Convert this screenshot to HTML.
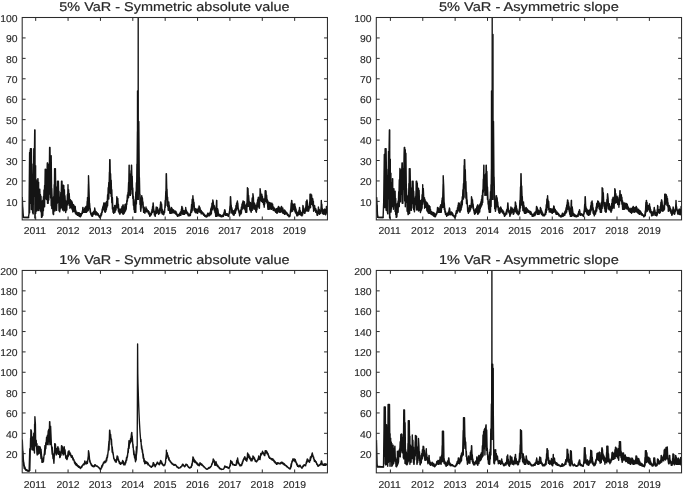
<!DOCTYPE html>
<html><head><meta charset="utf-8"><title>VaR charts</title>
<style>
html,body{margin:0;padding:0;background:#fff;}
body{width:685px;height:488px;overflow:hidden;}
svg{display:block;}
text{text-rendering:geometricPrecision;}
.tk{font-family:"Liberation Sans",sans-serif;font-size:10.00px;fill:#262626;stroke:#262626;stroke-width:0.12px;}
.tt{font-family:"Liberation Sans",sans-serif;font-size:12.80px;fill:#262626;stroke:#262626;stroke-width:0.2px;}
</style></head><body>
<svg width="685" height="488" viewBox="0 0 685 488">
<rect width="685" height="488" fill="#fff"/>
<clipPath id="ctl"><rect x="22.20" y="17.50" width="305.25" height="202.40"/></clipPath>
<g clip-path="url(#ctl)">
<polyline points="21.8,197.3 22.4,212.8 22.4,207.3 22.9,217.4 23.0,215.5 23.1,217.4 23.6,217.5 24.2,217.5 24.8,217.5 25.4,217.5 26.0,217.5 26.6,217.5 27.2,217.5 27.8,217.5 28.4,217.5 29.0,213.9 29.6,152.5 29.6,212.7 30.2,150.2 30.2,203.3 30.4,148.8 30.8,148.8 31.4,209.6 31.4,148.8 32.0,207.4 32.0,163.9 32.6,212.0 33.1,213.9 33.2,174.3 33.2,213.9 33.8,148.6 33.8,196.0 34.4,158.0 34.7,129.9 34.9,218.1 35.0,129.9 35.1,218.1 35.6,165.6 35.7,213.5 36.2,179.6 36.3,209.8 36.8,210.9 37.4,181.0 37.4,206.5 37.8,178.8 38.0,178.8 38.1,210.3 38.6,182.2 38.7,210.6 39.2,190.8 39.8,208.6 39.8,189.3 40.4,210.9 40.4,194.4 41.0,211.9 41.0,196.1 41.5,217.4 41.6,201.0 41.7,217.4 42.2,216.4 42.8,200.2 42.8,215.6 43.4,196.8 43.4,210.7 44.0,189.9 44.0,207.1 44.6,185.5 44.6,206.8 45.2,169.2 45.2,193.2 45.8,169.5 45.8,198.6 46.4,172.2 46.4,199.5 47.0,172.2 47.3,163.0 47.5,203.3 47.6,163.0 47.7,203.3 48.2,203.3 48.8,164.1 48.8,200.0 49.4,165.7 49.6,147.4 50.0,194.1 50.0,147.4 50.6,197.9 50.6,161.0 51.2,205.7 51.2,155.8 51.8,208.5 51.8,188.4 52.4,206.8 52.4,197.7 53.0,213.2 53.4,214.6 53.6,196.7 53.6,214.6 54.2,184.6 54.2,208.9 54.6,168.6 54.8,168.6 54.9,211.0 55.4,168.6 56.0,208.8 56.0,186.8 56.4,210.4 56.6,210.4 57.2,193.5 57.2,203.4 57.5,181.2 57.8,181.2 58.4,202.4 58.4,181.2 59.0,210.7 59.0,191.3 59.6,211.7 59.6,198.4 59.7,211.8 60.2,208.3 60.8,192.4 60.8,208.0 61.4,185.7 61.5,181.2 62.0,208.0 62.0,181.2 62.6,210.0 62.6,187.1 63.2,209.1 63.2,185.1 63.8,209.3 63.8,185.5 63.9,211.1 64.4,189.7 65.0,210.2 65.0,195.8 65.6,208.0 65.6,200.4 65.7,212.5 66.2,209.3 66.8,201.1 66.8,210.0 67.4,194.5 67.4,204.9 68.0,186.6 68.0,184.7 68.1,203.6 68.6,189.6 69.2,205.4 69.2,193.4 69.8,203.8 69.8,199.6 69.9,208.3 70.4,199.6 70.5,207.2 71.0,200.5 71.6,208.1 71.6,201.0 72.2,209.7 72.2,202.0 72.8,212.0 72.8,205.9 73.4,210.6 73.4,204.4 74.0,211.3 74.0,205.3 74.6,211.1 74.6,207.0 75.2,212.9 75.2,206.4 75.8,213.9 75.8,210.3 76.4,214.5 76.4,212.1 77.0,213.9 77.0,212.1 77.6,215.3 77.6,212.8 78.2,214.7 78.2,212.7 78.8,215.8 78.8,212.6 79.4,216.3 79.4,212.9 80.0,216.2 80.0,213.5 80.3,216.9 80.6,213.7 80.7,216.4 81.2,215.7 81.8,213.2 81.8,213.8 82.4,210.8 82.4,213.5 82.8,207.5 83.0,207.5 83.1,212.3 83.6,209.2 83.7,211.5 84.2,212.3 84.8,207.9 84.8,212.3 85.4,207.2 85.4,212.3 85.9,206.5 86.0,212.3 86.6,206.2 86.6,212.3 87.2,201.3 87.2,209.5 87.5,197.5 87.8,211.0 88.4,184.0 88.4,210.3 88.5,175.8 89.0,189.8 89.6,208.5 89.6,203.3 90.2,212.3 90.2,208.5 90.8,214.3 90.8,212.3 91.4,215.3 91.4,213.7 92.0,215.5 92.0,216.4 92.6,212.6 92.6,216.2 93.2,212.0 93.2,214.7 93.8,211.1 93.8,214.1 94.4,210.5 94.4,214.1 94.7,208.0 95.0,209.7 95.6,214.8 95.6,211.2 95.7,214.8 96.2,211.8 96.3,214.8 96.8,212.7 97.4,214.8 97.4,213.0 98.0,215.4 98.0,213.4 98.6,215.7 98.6,214.8 99.2,216.9 99.2,215.4 99.8,217.5 99.8,215.9 100.2,217.9 100.4,217.9 101.0,213.5 101.0,216.2 101.6,212.4 101.6,214.9 102.2,209.0 102.2,212.3 102.8,206.8 102.8,210.4 103.4,205.0 103.4,209.3 103.8,202.9 104.0,202.9 104.6,211.6 104.6,203.3 105.2,211.6 105.3,212.3 105.8,202.8 105.8,211.5 106.4,201.8 106.4,209.8 107.0,202.1 107.0,207.1 107.6,194.8 107.6,205.8 108.2,187.6 108.2,194.8 108.8,182.4 108.8,199.1 109.4,172.3 109.4,192.9 109.7,159.6 110.0,159.6 110.6,193.5 110.6,173.7 111.2,196.6 111.2,180.2 111.8,202.8 111.8,189.6 112.4,209.0 112.4,197.5 113.0,212.2 113.0,208.5 113.6,212.8 113.7,213.3 114.2,207.5 114.2,212.8 114.7,205.5 114.8,205.7 114.9,212.3 115.4,210.1 116.0,205.3 116.0,210.0 116.6,202.6 116.6,207.3 116.8,196.8 117.2,198.3 117.8,208.3 117.8,198.4 118.4,211.2 118.4,204.1 119.0,212.8 119.0,208.4 119.6,213.7 119.6,209.5 119.9,214.3 120.2,213.3 120.8,209.0 120.8,212.3 121.4,208.1 121.4,212.6 122.0,206.5 122.6,207.1 122.6,213.5 122.9,205.0 123.0,214.3 123.2,205.0 123.3,214.3 123.8,207.0 123.9,213.6 124.4,212.7 125.0,204.5 125.0,211.8 125.6,205.7 125.6,210.7 126.2,203.4 126.2,209.2 126.8,200.5 126.8,204.5 127.4,194.9 127.4,201.2 128.0,192.4 128.0,198.3 128.6,182.5 128.6,197.6 129.1,165.2 129.2,165.2 129.3,195.1 129.8,174.0 130.2,195.4 130.4,195.4 131.0,170.6 131.0,189.3 131.4,165.2 131.6,165.2 132.2,194.0 132.2,176.1 132.8,198.5 132.8,187.9 133.4,205.3 133.4,196.2 134.0,209.6 134.0,202.2 134.5,212.3 134.6,212.3 135.2,199.6 135.2,212.3 135.8,191.9 135.8,212.3 136.4,182.8 136.4,204.1 137.0,164.1 137.0,192.0 137.6,131.6 137.6,191.6 137.7,121.5 138.2,121.5 138.8,183.2 138.8,121.5 139.4,194.0 139.4,177.6 140.0,204.4 140.0,194.3 140.6,209.9 140.6,198.0 140.7,211.3 141.2,207.7 141.7,195.8 141.8,195.8 142.4,204.2 142.4,197.7 143.0,207.9 143.0,201.9 143.6,212.4 143.6,206.4 144.2,211.2 144.2,207.4 144.8,213.3 144.8,213.3 145.4,209.1 145.4,211.7 146.0,207.0 146.0,207.0 146.1,211.7 146.6,208.5 146.7,211.8 147.2,209.8 147.8,211.9 147.8,210.9 148.4,213.2 148.4,210.8 149.0,214.5 149.0,211.5 149.6,215.3 149.6,213.3 149.8,216.4 150.2,215.8 150.8,213.4 150.8,215.5 151.4,211.9 151.4,214.4 152.0,209.5 152.0,212.3 152.6,206.5 152.6,212.5 153.1,202.9 153.2,202.9 153.8,211.1 153.8,209.3 154.4,215.0 154.4,211.1 155.0,214.7 155.2,216.4 155.6,211.0 155.6,213.4 156.2,207.0 156.2,207.0 156.3,213.6 156.8,208.3 156.9,212.6 157.4,207.5 158.0,213.2 158.0,209.0 158.5,214.3 158.6,214.3 159.2,210.8 159.2,213.6 159.8,208.3 159.8,213.1 160.4,204.2 160.4,210.4 160.6,201.9 161.0,202.2 161.6,212.7 161.6,204.0 162.2,214.0 162.2,209.2 162.8,213.8 162.8,211.6 163.4,214.7 163.7,214.8 164.0,211.0 164.0,214.2 164.6,209.2 164.6,212.5 165.2,200.4 165.2,207.4 165.8,191.4 165.8,205.5 166.2,173.7 166.4,173.7 167.0,199.1 167.0,189.1 167.6,206.4 167.6,197.1 168.2,210.3 168.8,201.9 168.8,209.4 168.8,201.9 169.4,210.6 169.4,205.7 169.8,213.3 170.0,213.3 170.6,209.0 170.6,213.3 171.2,207.7 171.2,213.3 171.3,207.5 171.8,208.2 171.9,213.0 172.4,209.0 172.5,212.8 173.0,209.6 173.6,212.5 173.6,210.0 174.2,213.0 174.2,210.9 174.8,213.1 174.8,210.9 175.4,213.5 175.4,211.2 176.0,214.3 176.0,211.5 176.6,215.0 176.6,213.0 177.2,215.1 177.2,214.3 177.5,216.4 177.8,216.2 178.4,214.8 178.4,216.0 179.0,214.2 179.0,215.1 179.6,213.5 179.6,215.7 180.2,212.3 180.2,215.2 180.8,211.5 180.8,215.4 181.4,209.2 181.4,213.9 181.8,206.5 182.0,206.5 182.6,212.6 182.6,207.9 182.7,214.3 183.2,210.2 183.3,214.3 183.8,210.7 183.9,214.3 184.4,214.3 185.0,210.5 185.0,213.7 185.6,208.9 185.7,207.5 186.2,213.0 186.2,210.0 186.8,213.3 186.8,211.2 187.4,214.1 187.4,212.5 188.0,215.1 188.0,212.9 188.3,215.9 188.6,214.1 188.7,215.9 189.2,214.3 189.3,215.9 189.8,215.9 190.4,213.2 190.4,215.4 191.0,209.6 191.0,212.8 191.6,204.4 191.6,212.4 192.2,199.2 192.2,211.0 192.8,198.2 192.9,195.8 193.4,206.1 193.4,199.3 194.0,210.3 194.0,202.3 194.6,211.1 194.6,207.9 195.2,212.5 195.2,209.5 195.8,212.7 195.8,208.6 196.4,212.0 196.4,209.1 197.0,213.0 197.0,209.4 197.5,213.3 197.6,213.3 198.2,208.3 198.2,211.8 198.8,207.8 198.8,211.9 199.0,206.0 199.4,206.5 200.0,212.4 200.0,207.7 200.6,212.5 200.6,210.1 201.2,213.9 201.2,210.4 201.8,213.3 201.8,212.0 202.4,213.9 202.4,212.0 203.0,214.1 203.0,212.7 203.6,215.2 203.6,213.2 204.2,215.4 204.2,214.3 204.8,216.4 204.8,214.8 205.4,216.6 205.4,215.5 206.0,216.7 206.2,216.9 206.6,215.6 206.6,216.8 207.2,214.5 207.2,216.6 207.7,213.2 207.8,213.2 207.9,215.9 208.4,213.4 208.5,215.7 209.0,215.6 209.6,213.0 209.6,215.7 210.2,212.0 210.2,214.9 210.8,208.6 210.8,214.6 211.4,206.9 211.4,213.6 212.0,203.1 212.0,209.8 212.6,202.4 212.6,209.8 212.8,199.9 213.2,201.8 213.8,208.1 213.8,205.1 214.4,210.7 214.4,205.7 215.0,212.6 215.0,208.0 215.6,214.8 215.7,216.4 216.2,208.2 216.6,200.4 216.7,216.4 216.8,200.4 216.9,216.4 217.4,215.1 217.5,208.4 218.0,210.1 218.6,215.8 218.6,213.6 219.2,216.0 219.2,214.1 219.8,215.7 219.8,214.8 220.4,216.5 220.4,214.8 221.0,216.2 221.0,215.1 221.5,216.9 221.6,216.9 222.2,215.4 222.2,216.3 222.8,215.0 222.8,216.5 223.4,214.2 223.4,216.3 224.0,212.5 224.0,214.9 224.6,209.9 224.6,214.7 224.8,209.6 225.2,210.9 225.6,215.4 225.8,213.9 225.9,215.4 226.4,213.7 226.5,215.4 227.0,213.7 227.6,215.7 227.6,213.9 228.2,216.0 228.7,216.4 228.8,214.2 228.8,216.4 229.4,211.4 229.4,213.0 230.0,205.9 230.0,213.0 230.4,196.8 230.6,196.8 231.2,207.8 231.2,205.0 231.8,213.1 231.8,207.7 232.4,212.6 232.4,209.9 233.0,214.6 233.0,210.5 233.6,214.7 233.8,215.4 234.2,210.6 234.2,215.0 234.8,209.6 234.8,213.3 235.4,208.4 235.4,213.2 236.0,205.4 236.0,210.9 236.6,203.0 236.6,209.6 237.2,202.6 237.4,200.9 237.8,208.3 237.8,203.0 238.4,210.7 238.4,208.7 239.0,212.8 239.0,210.2 239.6,215.7 239.6,215.9 240.2,212.3 240.2,213.8 240.8,209.8 240.8,214.1 241.4,207.0 241.4,213.1 242.0,204.0 242.0,209.7 242.6,202.5 242.6,208.9 243.0,200.9 243.2,200.9 243.8,208.1 243.8,202.7 244.4,208.9 244.4,201.6 245.0,209.9 245.0,204.7 245.6,212.3 245.6,212.3 246.2,205.0 246.2,212.3 246.8,203.1 246.8,212.3 247.4,190.0 247.4,187.6 247.5,206.5 248.0,188.4 248.6,206.3 248.6,195.4 249.2,203.9 249.2,201.1 249.8,209.8 249.8,203.6 250.4,210.9 250.4,202.4 251.0,210.6 251.2,212.3 251.6,205.3 251.6,208.3 252.2,198.0 252.2,210.4 252.8,197.6 252.8,208.1 252.9,193.7 253.4,197.7 254.0,209.3 254.0,202.4 254.6,209.1 254.6,203.4 255.2,209.1 255.2,205.2 255.8,211.1 255.8,205.1 256.3,212.3 256.4,212.3 257.0,202.7 257.0,209.8 257.6,199.8 257.6,206.4 258.2,197.8 258.2,206.9 258.4,197.3 258.8,199.2 259.2,208.2 259.4,208.2 260.0,193.7 260.0,200.7 260.1,188.6 260.6,193.0 260.7,200.4 261.2,195.7 261.3,201.2 261.8,194.1 262.4,202.3 262.4,196.3 263.0,202.2 263.0,198.4 263.6,204.6 263.6,199.2 264.2,206.7 264.2,207.2 264.8,198.3 264.8,204.0 265.2,190.6 265.4,190.6 265.5,201.4 266.0,191.0 266.6,202.2 266.6,195.1 267.2,203.4 267.2,199.4 267.8,207.7 267.8,200.7 267.9,209.2 268.4,202.0 268.5,209.2 269.0,202.9 269.1,209.2 269.6,202.5 269.7,209.1 270.2,203.5 270.8,208.7 270.8,202.9 271.4,209.4 271.4,204.5 272.0,208.8 272.0,203.3 272.6,208.6 272.6,204.1 273.2,210.4 273.2,207.0 273.8,210.5 273.8,207.2 274.4,210.6 274.4,208.3 275.0,211.1 275.0,209.2 275.6,212.2 276.2,208.6 276.2,212.4 276.8,209.1 276.8,212.2 276.8,213.3 277.4,208.1 277.4,213.0 278.0,208.7 278.0,211.7 278.4,206.5 278.6,206.5 278.7,211.8 279.2,207.1 279.3,212.0 279.8,212.3 280.4,208.1 280.4,212.2 281.0,207.2 281.0,211.7 281.4,206.5 281.6,206.5 282.2,212.3 282.2,208.1 282.8,213.1 282.8,208.0 283.4,213.4 283.4,209.9 284.0,213.1 284.0,210.6 284.5,214.3 284.6,209.9 284.7,214.3 285.2,210.6 285.3,214.0 285.8,211.8 286.4,213.6 286.4,212.1 287.0,214.6 287.0,212.8 287.6,215.4 287.6,213.7 288.2,215.7 288.2,214.5 288.8,216.0 288.8,215.1 289.0,216.9 289.4,216.5 290.0,215.4 290.0,216.2 290.6,209.7 290.6,212.1 291.2,203.0 291.2,211.9 291.6,200.4 291.8,200.4 292.4,208.3 292.4,204.1 292.6,211.3 293.0,204.0 293.1,209.7 293.6,204.4 294.2,209.7 294.7,203.9 294.8,211.2 294.8,203.9 295.4,212.6 295.4,206.8 296.0,213.4 296.0,208.9 296.6,214.9 296.6,211.2 296.9,215.9 297.2,215.9 297.8,212.4 297.8,215.6 298.4,212.6 298.4,214.5 299.0,210.2 299.0,214.5 299.5,207.5 299.6,207.5 300.2,214.7 300.2,210.4 300.8,215.1 300.8,212.5 301.4,215.0 301.4,212.5 301.8,215.9 302.0,215.9 302.6,210.8 302.6,214.9 302.9,205.5 303.2,206.5 303.3,212.0 303.8,208.3 303.9,212.7 304.4,210.2 304.5,213.3 305.0,213.3 305.6,207.1 305.6,211.5 306.2,201.4 306.2,208.5 306.8,200.4 306.8,210.7 307.0,199.9 307.4,202.6 308.0,211.3 308.0,206.1 308.1,211.3 308.6,207.2 308.7,210.9 309.2,208.6 309.8,201.3 309.8,206.6 310.0,194.2 310.4,194.2 310.5,207.7 311.0,194.2 311.1,204.4 311.6,194.9 312.2,204.4 312.2,198.1 312.8,205.9 312.8,198.8 313.4,208.8 313.4,201.2 313.6,211.3 314.0,210.7 314.6,205.6 314.6,205.5 315.2,209.9 315.2,208.3 315.8,212.3 315.8,208.6 316.4,212.2 316.4,210.2 317.0,214.6 317.2,215.4 317.6,211.4 317.6,215.3 318.2,209.1 318.2,213.8 318.4,207.0 318.8,209.3 318.9,212.4 319.4,209.8 319.5,214.3 320.0,213.5 320.6,211.0 320.6,213.3 321.2,205.6 321.3,200.4 321.8,211.0 321.8,204.1 322.4,213.5 322.4,208.6 323.0,213.5 323.0,209.6 323.4,214.3 323.6,213.8 324.2,209.7 324.6,209.1 324.8,214.2 324.8,209.1 325.4,213.9 325.6,214.8 326.0,209.3 326.0,214.2 326.4,206.5 326.6,206.5 326.7,213.5" fill="none" stroke="#141414" stroke-width="1.40" stroke-linejoin="round"/>
<polyline points="22.3,197.0 22.6,205.0 23.0,213.0 23.5,217.3 29.3,217.5" fill="none" stroke="#141414" stroke-width="1.35" stroke-linejoin="round"/>
<polyline points="137.4,200.0 137.5,91.0 137.7,200.0" fill="none" stroke="#141414" stroke-width="1.35" stroke-linejoin="round"/>
<polyline points="138.1,200.0 138.2,10.0 138.3,200.0" fill="none" stroke="#141414" stroke-width="1.35" stroke-linejoin="round"/>
</g>
<rect x="22.20" y="17.50" width="305.25" height="202.40" fill="none" stroke="#2b2b2b" stroke-width="1.05"/>
<text transform="translate(34.90 234.00) scale(1.040 1)" text-anchor="middle" class="tk">2011</text>
<text transform="translate(67.97 234.00) scale(1.040 1)" text-anchor="middle" class="tk">2012</text>
<text transform="translate(100.34 234.00) scale(1.040 1)" text-anchor="middle" class="tk">2013</text>
<text transform="translate(132.71 234.00) scale(1.040 1)" text-anchor="middle" class="tk">2014</text>
<text transform="translate(165.08 234.00) scale(1.040 1)" text-anchor="middle" class="tk">2015</text>
<text transform="translate(197.45 234.00) scale(1.040 1)" text-anchor="middle" class="tk">2016</text>
<text transform="translate(229.82 234.00) scale(1.040 1)" text-anchor="middle" class="tk">2017</text>
<text transform="translate(262.19 234.00) scale(1.040 1)" text-anchor="middle" class="tk">2018</text>
<text transform="translate(294.56 234.00) scale(1.040 1)" text-anchor="middle" class="tk">2019</text>
<text transform="translate(17.50 205.57) scale(1.040 1)" text-anchor="end" class="tk">10</text>
<text transform="translate(17.50 185.14) scale(1.040 1)" text-anchor="end" class="tk">20</text>
<text transform="translate(17.50 164.71) scale(1.040 1)" text-anchor="end" class="tk">30</text>
<text transform="translate(17.50 144.28) scale(1.040 1)" text-anchor="end" class="tk">40</text>
<text transform="translate(17.50 123.85) scale(1.040 1)" text-anchor="end" class="tk">50</text>
<text transform="translate(17.50 103.42) scale(1.040 1)" text-anchor="end" class="tk">60</text>
<text transform="translate(17.50 82.99) scale(1.040 1)" text-anchor="end" class="tk">70</text>
<text transform="translate(17.50 62.56) scale(1.040 1)" text-anchor="end" class="tk">80</text>
<text transform="translate(17.50 42.13) scale(1.040 1)" text-anchor="end" class="tk">90</text>
<text transform="translate(17.50 21.70) scale(1.040 1)" text-anchor="end" class="tk">100</text>
<path d="M35.70 219.90v-3.4M35.70 17.50v3.4M68.07 219.90v-3.4M68.07 17.50v3.4M100.44 219.90v-3.4M100.44 17.50v3.4M132.81 219.90v-3.4M132.81 17.50v3.4M165.18 219.90v-3.4M165.18 17.50v3.4M197.55 219.90v-3.4M197.55 17.50v3.4M229.92 219.90v-3.4M229.92 17.50v3.4M262.29 219.90v-3.4M262.29 17.50v3.4M294.66 219.90v-3.4M294.66 17.50v3.4M22.20 201.37h3.4M327.45 201.37h-3.4M22.20 180.94h3.4M327.45 180.94h-3.4M22.20 160.51h3.4M327.45 160.51h-3.4M22.20 140.08h3.4M327.45 140.08h-3.4M22.20 119.65h3.4M327.45 119.65h-3.4M22.20 99.22h3.4M327.45 99.22h-3.4M22.20 78.79h3.4M327.45 78.79h-3.4M22.20 58.36h3.4M327.45 58.36h-3.4M22.20 37.93h3.4M327.45 37.93h-3.4" stroke="#2b2b2b" stroke-width="1.0" fill="none"/>
<text transform="translate(174.42 11.00) scale(1.129 1)" text-anchor="middle" class="tt">5% VaR - Symmetric absolute value</text>
<clipPath id="ctr"><rect x="376.30" y="17.50" width="305.25" height="202.40"/></clipPath>
<g clip-path="url(#ctr)">
<polyline points="376.5,197.3 377.1,211.7 377.1,205.2 377.6,217.4 377.7,215.8 377.8,217.4 378.3,217.5 378.9,217.5 379.5,217.5 380.1,217.5 380.7,217.5 381.3,217.5 381.9,217.5 382.5,217.5 383.1,217.5 383.7,201.7 384.3,154.5 384.3,207.6 384.9,155.5 384.9,207.6 385.1,148.8 385.5,148.8 386.1,210.3 386.1,148.8 386.7,192.6 386.7,169.3 387.3,211.5 387.8,213.9 387.9,175.7 387.9,213.9 388.5,151.4 388.5,198.7 389.1,148.4 389.4,129.9 389.6,218.1 389.7,129.9 389.8,218.1 390.3,159.1 390.4,206.5 390.9,173.1 391.0,212.1 391.5,205.7 392.1,182.5 392.1,206.8 392.5,178.8 392.7,178.8 392.8,205.7 393.3,189.2 393.4,209.2 393.9,188.6 394.5,203.8 394.5,192.8 395.1,211.4 395.1,191.1 395.7,214.5 395.7,198.4 396.2,217.4 396.3,204.0 396.4,217.4 396.9,216.8 397.5,203.3 397.5,212.6 398.1,200.9 398.1,212.3 398.7,191.8 398.7,207.1 399.3,179.7 399.3,206.6 399.9,168.5 399.9,194.2 400.5,169.6 400.5,201.7 401.1,170.0 401.1,194.4 401.7,171.5 402.0,163.0 402.2,203.3 402.3,163.0 402.4,203.3 402.9,203.3 403.5,168.4 403.5,189.1 404.1,153.5 404.3,147.4 404.7,201.1 404.7,147.4 405.3,206.7 405.3,149.6 405.9,196.3 405.9,153.3 406.5,202.3 406.5,188.4 407.1,211.3 407.1,196.2 407.7,211.1 408.1,214.6 408.3,195.2 408.3,214.6 408.9,183.4 408.9,213.4 409.3,168.6 409.5,168.6 409.6,213.5 410.1,168.6 410.7,203.5 410.7,187.6 411.1,210.4 411.3,210.4 411.9,195.1 411.9,208.0 412.2,181.2 412.5,181.2 413.1,203.6 413.1,181.2 413.7,209.7 413.7,191.3 414.3,210.5 414.3,198.5 414.4,211.8 414.9,207.4 415.5,196.8 415.5,204.6 416.1,190.1 416.2,181.2 416.7,210.0 416.7,181.2 417.3,209.8 417.3,182.9 417.9,209.2 417.9,190.5 418.5,210.9 418.5,188.2 418.6,211.1 419.1,190.2 419.7,210.3 419.7,200.3 420.3,211.7 420.3,200.8 420.4,212.5 420.9,210.6 421.5,199.8 421.5,210.0 422.1,194.6 422.1,208.2 422.7,186.5 422.7,184.7 422.8,204.2 423.3,188.4 423.9,201.3 423.9,197.1 424.5,203.7 424.5,197.7 424.6,208.3 425.1,199.6 425.2,207.4 425.7,201.1 426.3,207.3 426.3,202.2 426.9,210.7 426.9,202.5 427.5,211.4 427.5,203.1 428.1,212.8 428.1,204.6 428.7,213.3 428.7,206.3 429.3,213.2 429.3,205.7 429.9,213.2 429.9,206.4 430.5,213.8 430.5,209.4 431.1,214.1 431.1,211.5 431.7,214.5 431.7,211.8 432.3,214.5 432.3,213.0 432.9,215.2 432.9,212.3 433.5,215.8 433.5,212.8 434.1,216.4 434.1,213.1 434.7,216.4 434.7,213.3 435.0,216.9 435.3,214.3 435.4,216.7 435.9,215.2 436.5,213.3 436.5,214.6 437.1,211.1 437.1,213.2 437.5,207.5 437.7,207.5 437.8,211.8 438.3,207.9 438.4,212.2 438.9,212.3 439.5,208.7 439.5,212.3 440.1,206.4 440.1,212.3 440.6,204.9 440.7,212.3 441.3,204.5 441.3,212.3 441.9,200.5 441.9,208.0 442.2,197.9 442.5,206.6 443.1,184.0 443.1,207.3 443.2,175.8 443.7,186.5 444.3,209.6 444.3,202.8 444.9,212.3 444.9,208.3 445.5,214.5 445.5,211.3 446.1,214.8 446.1,213.2 446.7,215.4 446.7,216.4 447.3,213.2 447.3,215.4 447.9,212.6 447.9,215.4 448.5,211.8 448.5,215.0 449.1,209.6 449.1,214.7 449.4,208.0 449.7,209.0 450.3,214.8 450.3,211.9 450.4,214.8 450.9,212.6 451.0,214.2 451.5,212.0 452.1,215.0 452.1,212.4 452.7,215.6 452.7,213.5 453.3,215.9 453.3,214.9 453.9,216.6 453.9,215.6 454.5,217.5 454.5,216.0 454.9,217.9 455.1,217.9 455.7,213.6 455.7,216.4 456.3,210.8 456.3,213.2 456.9,210.4 456.9,213.4 457.5,207.6 457.5,212.1 458.1,205.1 458.1,210.5 458.5,202.9 458.7,202.9 459.3,211.1 459.3,203.1 459.9,211.4 460.0,212.3 460.5,205.3 460.5,210.8 461.1,201.8 461.1,209.9 461.7,200.6 461.7,207.1 462.3,196.8 462.3,204.9 462.9,189.8 462.9,197.4 463.5,183.6 463.5,199.0 464.1,165.4 464.1,197.2 464.4,159.6 464.7,159.6 465.3,188.1 465.3,169.6 465.9,198.2 465.9,181.5 466.5,203.8 466.5,192.1 467.1,204.0 467.1,199.7 467.7,211.5 467.7,208.4 468.3,212.9 468.4,213.3 468.9,207.8 468.9,211.4 469.4,205.5 469.5,205.6 469.6,211.7 470.1,210.6 470.7,205.4 470.7,209.1 471.3,203.0 471.3,207.6 471.5,196.8 471.9,198.9 472.5,206.7 472.5,199.8 473.1,208.6 473.1,204.0 473.7,210.4 473.7,208.8 474.3,213.1 474.3,210.7 474.6,214.3 474.9,213.2 475.5,208.9 475.5,213.6 476.1,208.7 476.1,212.4 476.7,207.5 477.3,205.6 477.3,212.0 477.6,205.0 477.7,214.3 477.9,205.0 478.0,214.3 478.5,206.0 478.6,213.3 479.1,210.9 479.7,204.6 479.7,212.0 480.3,203.5 480.3,208.7 480.9,201.8 480.9,207.2 481.5,199.1 481.5,206.0 482.1,195.4 482.1,204.7 482.7,189.9 482.7,202.5 483.3,179.1 483.3,192.3 483.8,165.2 483.9,165.2 484.0,190.2 484.5,174.8 484.9,195.4 485.1,195.4 485.7,173.6 485.7,195.0 486.1,165.2 486.3,165.2 486.9,195.4 486.9,171.4 487.5,199.6 487.5,187.0 488.1,204.2 488.1,199.8 488.7,209.1 488.7,201.8 489.2,212.3 489.3,212.3 489.9,199.1 489.9,212.3 490.5,191.7 490.5,212.3 491.1,184.7 491.1,206.6 491.7,166.5 491.7,198.1 492.3,142.8 492.3,178.3 492.4,121.5 492.9,121.5 493.5,185.2 493.5,121.5 494.1,198.2 494.1,176.8 494.7,208.8 494.7,195.5 495.3,207.4 495.3,199.7 495.4,211.3 495.9,208.7 496.4,195.8 496.5,195.8 497.1,206.8 497.1,197.7 497.7,206.1 497.7,201.9 498.3,210.3 498.3,206.2 498.9,212.6 498.9,207.5 499.5,213.3 499.5,213.3 500.1,208.2 500.1,212.9 500.7,207.0 500.7,207.0 500.8,211.1 501.3,208.1 501.4,211.7 501.9,209.9 502.5,212.7 502.5,209.9 503.1,213.5 503.1,210.8 503.7,214.0 503.7,211.6 504.3,215.6 504.3,213.4 504.5,216.4 504.9,215.9 505.5,213.6 505.5,215.0 506.1,211.9 506.1,213.9 506.7,209.6 506.7,214.1 507.3,208.6 507.3,210.8 507.8,202.9 507.9,202.9 508.5,212.0 508.5,208.9 509.1,212.9 509.1,211.0 509.7,214.3 509.9,216.4 510.3,210.4 510.3,215.3 510.9,207.0 510.9,207.0 511.0,213.9 511.5,208.8 511.6,212.7 512.1,207.9 512.7,212.0 512.7,209.0 513.2,214.3 513.3,214.3 513.9,209.4 513.9,213.7 514.5,207.8 514.5,211.2 515.1,206.5 515.1,211.5 515.3,201.9 515.7,203.2 516.3,212.6 516.3,205.6 516.9,213.5 516.9,208.6 517.5,213.8 517.5,210.8 518.1,214.6 518.4,214.8 518.7,211.9 518.7,214.7 519.3,209.1 519.3,213.8 519.9,200.4 519.9,211.5 520.5,187.0 520.5,208.0 520.9,173.7 521.1,173.7 521.7,205.1 521.7,185.9 522.3,204.6 522.3,196.5 522.9,210.6 523.5,203.9 523.5,210.7 523.5,201.9 524.1,212.3 524.1,205.7 524.5,213.3 524.7,213.3 525.3,208.2 525.3,213.3 525.9,208.3 525.9,213.3 526.0,207.5 526.5,208.2 526.6,212.6 527.1,208.8 527.2,211.9 527.7,209.8 528.3,212.4 528.3,210.2 528.9,212.2 528.9,211.2 529.5,212.9 529.5,210.9 530.1,213.8 530.1,211.4 530.7,214.4 530.7,211.5 531.3,214.0 531.3,212.6 531.9,215.0 531.9,214.1 532.2,216.4 532.5,216.3 533.1,214.1 533.1,216.2 533.7,214.2 533.7,215.9 534.3,213.0 534.3,215.7 534.9,212.3 534.9,215.6 535.5,211.6 535.5,214.6 536.1,210.8 536.1,212.5 536.5,206.5 536.7,206.5 537.3,213.7 537.3,207.8 537.4,214.3 537.9,209.3 538.0,214.3 538.5,210.4 538.6,214.3 539.1,214.3 539.7,210.8 539.7,212.6 540.3,209.0 540.4,207.5 540.9,213.3 540.9,208.5 541.5,214.4 541.5,210.2 542.1,214.9 542.1,211.7 542.7,215.5 542.7,212.9 543.0,215.9 543.3,214.2 543.4,215.9 543.9,214.4 544.0,215.9 544.5,215.9 545.1,213.3 545.1,214.2 545.7,209.2 545.7,214.5 546.3,204.8 546.3,212.5 546.9,199.0 546.9,210.2 547.5,197.2 547.6,195.8 548.1,207.2 548.1,200.0 548.7,209.7 548.7,201.4 549.3,212.1 549.3,208.7 549.9,211.2 549.9,208.6 550.5,212.1 550.5,208.6 551.1,212.4 551.1,208.7 551.7,212.7 551.7,209.1 552.2,213.3 552.3,213.3 552.9,208.8 552.9,212.0 553.5,207.6 553.5,212.2 553.7,206.0 554.1,206.3 554.7,211.9 554.7,208.8 555.3,212.3 555.3,209.5 555.9,214.0 555.9,210.4 556.5,214.4 556.5,211.9 557.1,214.3 557.1,212.0 557.7,214.0 557.7,213.2 558.3,214.6 558.3,213.2 558.9,215.8 558.9,213.9 559.5,215.9 559.5,214.9 560.1,216.6 560.1,215.5 560.7,216.7 560.9,216.9 561.3,215.3 561.3,216.7 561.9,214.6 561.9,216.6 562.4,213.2 562.5,213.2 562.6,216.4 563.1,214.0 563.2,216.2 563.7,215.8 564.3,213.0 564.3,215.4 564.9,211.5 564.9,215.1 565.5,210.3 565.5,213.4 566.1,207.8 566.1,213.0 566.7,205.0 566.7,212.0 567.3,201.9 567.3,209.6 567.5,199.9 567.9,200.5 568.5,209.3 568.5,202.6 569.1,211.2 569.1,206.3 569.7,214.3 569.7,208.0 570.3,215.1 570.4,216.4 570.9,210.0 571.3,200.4 571.4,216.4 571.5,200.4 571.6,216.4 572.1,215.6 572.2,206.8 572.7,210.8 573.3,215.7 573.3,213.2 573.9,215.4 573.9,213.9 574.5,216.2 574.5,214.1 575.1,216.5 575.1,214.8 575.7,216.6 575.7,215.1 576.2,216.9 576.3,216.9 576.9,215.6 576.9,216.7 577.5,215.1 577.5,216.2 578.1,213.7 578.1,216.3 578.7,211.5 578.7,214.2 579.3,210.5 579.3,214.6 579.5,209.6 579.9,211.7 580.3,215.4 580.5,213.5 580.6,215.4 581.1,214.2 581.2,214.9 581.7,213.7 582.3,215.4 582.3,214.3 582.9,215.8 583.4,216.4 583.5,214.5 583.5,216.4 584.1,210.8 584.1,213.9 584.7,204.3 584.7,211.8 585.1,196.8 585.3,196.8 585.9,211.2 585.9,206.5 586.5,212.9 586.5,208.1 587.1,214.1 587.1,209.4 587.7,214.7 587.7,210.4 588.3,214.2 588.5,215.4 588.9,210.2 588.9,215.3 589.5,210.2 589.5,214.5 590.1,209.3 590.1,214.4 590.7,205.7 590.7,211.9 591.3,202.2 591.3,210.3 591.9,202.9 592.1,200.9 592.5,209.6 592.5,203.1 593.1,213.3 593.1,207.6 593.7,214.3 593.7,210.2 594.3,215.5 594.3,215.9 594.9,211.8 594.9,213.9 595.5,210.3 595.5,214.1 596.1,207.0 596.1,211.9 596.7,203.5 596.7,210.9 597.3,202.6 597.3,207.9 597.7,200.9 597.9,200.9 598.5,206.2 598.5,201.5 599.1,208.7 599.1,203.8 599.7,209.3 599.7,203.3 600.3,212.3 600.3,212.3 600.9,205.2 600.9,212.3 601.5,202.3 601.5,212.3 602.1,194.9 602.1,187.6 602.2,208.5 602.7,188.4 603.3,202.9 603.3,192.6 603.9,206.1 603.9,203.0 604.5,208.3 604.5,204.4 605.1,211.4 605.1,202.4 605.7,211.0 605.9,212.3 606.3,204.0 606.3,211.9 606.9,199.5 606.9,209.0 607.5,194.1 607.5,205.6 607.6,193.7 608.1,198.4 608.7,209.1 608.7,204.0 609.3,209.9 609.3,203.6 609.9,209.2 609.9,206.0 610.5,211.0 610.5,206.7 611.0,212.3 611.1,212.3 611.7,203.4 611.7,210.7 612.3,199.1 612.3,208.7 612.9,197.8 612.9,207.0 613.1,197.3 613.5,200.3 613.9,208.2 614.1,208.2 614.7,193.9 614.7,201.2 614.8,188.6 615.3,190.4 615.4,203.1 615.9,193.8 616.0,202.7 616.5,196.7 617.1,202.2 617.1,196.1 617.7,204.5 617.7,197.3 618.3,203.5 618.3,199.4 618.9,205.9 618.9,207.2 619.5,195.2 619.5,204.4 619.9,190.6 620.1,190.6 620.2,200.7 620.7,194.2 621.3,200.9 621.3,194.6 621.9,204.3 621.9,197.3 622.5,207.1 622.5,200.8 622.6,209.2 623.1,202.1 623.2,209.2 623.7,204.1 623.8,209.2 624.3,203.3 624.4,209.2 624.9,202.9 625.5,207.9 625.5,204.7 626.1,208.9 626.1,203.7 626.7,208.7 626.7,203.4 627.3,209.0 627.3,204.4 627.9,209.2 627.9,206.2 628.5,210.6 628.5,207.5 629.1,211.3 629.1,208.1 629.7,210.9 629.7,208.9 630.3,212.3 630.9,208.3 630.9,211.7 631.5,208.5 631.5,212.5 631.5,213.3 632.1,208.9 632.1,212.4 632.7,207.4 632.7,211.0 633.1,206.5 633.3,206.5 633.4,212.0 633.9,207.3 634.0,211.3 634.5,212.3 635.1,207.7 635.1,212.0 635.7,207.7 635.7,211.3 636.1,206.5 636.3,206.5 636.9,212.2 636.9,207.7 637.5,211.4 637.5,209.1 638.1,213.3 638.1,210.0 638.7,213.5 638.7,209.3 639.2,214.3 639.3,210.4 639.4,214.3 639.9,210.8 640.0,213.8 640.5,211.2 641.1,214.6 641.1,212.1 641.7,215.0 641.7,213.5 642.3,215.3 642.3,213.8 642.9,215.6 642.9,214.4 643.5,216.1 643.5,215.2 643.7,216.9 644.1,216.7 644.7,215.0 644.7,216.1 645.3,210.9 645.3,215.6 645.9,202.4 645.9,212.7 646.3,200.4 646.5,200.4 647.1,211.0 647.1,202.5 647.3,211.3 647.7,205.4 647.8,209.0 648.3,205.7 648.9,210.0 649.4,203.9 649.5,211.3 649.5,203.9 650.1,212.5 650.1,206.8 650.7,212.3 650.7,209.5 651.3,214.0 651.3,211.4 651.6,215.9 651.9,215.9 652.5,212.3 652.5,214.7 653.1,211.4 653.1,215.4 653.7,211.4 653.7,213.5 654.2,207.5 654.3,207.5 654.9,215.1 654.9,210.0 655.5,215.4 655.5,212.3 656.1,215.3 656.1,212.7 656.5,215.9 656.7,215.9 657.3,209.2 657.3,215.0 657.6,205.5 657.9,206.0 658.0,213.0 658.5,209.5 658.6,212.3 659.1,209.8 659.2,212.6 659.7,213.3 660.3,206.4 660.3,212.5 660.9,202.2 660.9,209.5 661.5,200.0 661.5,210.7 661.7,199.9 662.1,202.1 662.7,211.3 662.7,205.3 662.8,211.3 663.3,207.3 663.4,210.6 663.9,210.4 664.5,201.3 664.5,209.2 664.7,194.2 665.1,194.2 665.2,204.6 665.7,194.2 665.8,202.7 666.3,194.7 666.9,205.2 666.9,196.3 667.5,206.0 667.5,198.5 668.1,207.8 668.1,202.8 668.3,211.3 668.7,209.8 669.3,205.6 669.3,205.5 669.9,210.9 669.9,206.6 670.5,211.8 670.5,208.5 671.1,213.4 671.1,209.7 671.7,214.5 671.9,215.4 672.3,211.5 672.3,214.5 672.9,208.7 672.9,213.3 673.1,207.0 673.5,208.4 673.6,212.9 674.1,209.7 674.2,214.3 674.7,214.1 675.3,210.8 675.3,211.7 675.9,203.5 676.0,200.4 676.5,209.7 676.5,206.4 677.1,210.8 677.1,209.2 677.7,213.8 677.7,210.5 678.1,214.3 678.3,213.9 678.9,209.3 679.3,209.1 679.5,214.4 679.5,209.1 680.1,213.8 680.3,214.8 680.7,210.5 680.7,213.4 681.1,206.5 681.3,206.5 681.4,213.3" fill="none" stroke="#141414" stroke-width="1.40" stroke-linejoin="round"/>
<polyline points="376.5,197.0 376.8,205.0 377.2,213.0 377.7,217.3 383.5,217.5" fill="none" stroke="#141414" stroke-width="1.35" stroke-linejoin="round"/>
<polyline points="491.4,200.0 491.5,91.0 491.7,200.0" fill="none" stroke="#141414" stroke-width="1.35" stroke-linejoin="round"/>
<polyline points="492.1,200.0 492.2,10.0 492.3,200.0" fill="none" stroke="#141414" stroke-width="1.35" stroke-linejoin="round"/>
<polyline points="492.9,200.0 493.0,34.4 493.1,200.0" fill="none" stroke="#141414" stroke-width="1.35" stroke-linejoin="round"/>
</g>
<rect x="376.30" y="17.50" width="305.25" height="202.40" fill="none" stroke="#2b2b2b" stroke-width="1.05"/>
<text transform="translate(389.60 234.00) scale(1.040 1)" text-anchor="middle" class="tk">2011</text>
<text transform="translate(422.67 234.00) scale(1.040 1)" text-anchor="middle" class="tk">2012</text>
<text transform="translate(455.04 234.00) scale(1.040 1)" text-anchor="middle" class="tk">2013</text>
<text transform="translate(487.41 234.00) scale(1.040 1)" text-anchor="middle" class="tk">2014</text>
<text transform="translate(519.78 234.00) scale(1.040 1)" text-anchor="middle" class="tk">2015</text>
<text transform="translate(552.15 234.00) scale(1.040 1)" text-anchor="middle" class="tk">2016</text>
<text transform="translate(584.52 234.00) scale(1.040 1)" text-anchor="middle" class="tk">2017</text>
<text transform="translate(616.89 234.00) scale(1.040 1)" text-anchor="middle" class="tk">2018</text>
<text transform="translate(649.26 234.00) scale(1.040 1)" text-anchor="middle" class="tk">2019</text>
<text transform="translate(371.60 205.57) scale(1.040 1)" text-anchor="end" class="tk">10</text>
<text transform="translate(371.60 185.14) scale(1.040 1)" text-anchor="end" class="tk">20</text>
<text transform="translate(371.60 164.71) scale(1.040 1)" text-anchor="end" class="tk">30</text>
<text transform="translate(371.60 144.28) scale(1.040 1)" text-anchor="end" class="tk">40</text>
<text transform="translate(371.60 123.85) scale(1.040 1)" text-anchor="end" class="tk">50</text>
<text transform="translate(371.60 103.42) scale(1.040 1)" text-anchor="end" class="tk">60</text>
<text transform="translate(371.60 82.99) scale(1.040 1)" text-anchor="end" class="tk">70</text>
<text transform="translate(371.60 62.56) scale(1.040 1)" text-anchor="end" class="tk">80</text>
<text transform="translate(371.60 42.13) scale(1.040 1)" text-anchor="end" class="tk">90</text>
<text transform="translate(371.60 21.70) scale(1.040 1)" text-anchor="end" class="tk">100</text>
<path d="M390.40 219.90v-3.4M390.40 17.50v3.4M422.77 219.90v-3.4M422.77 17.50v3.4M455.14 219.90v-3.4M455.14 17.50v3.4M487.51 219.90v-3.4M487.51 17.50v3.4M519.88 219.90v-3.4M519.88 17.50v3.4M552.25 219.90v-3.4M552.25 17.50v3.4M584.62 219.90v-3.4M584.62 17.50v3.4M616.99 219.90v-3.4M616.99 17.50v3.4M649.36 219.90v-3.4M649.36 17.50v3.4M376.30 201.37h3.4M681.55 201.37h-3.4M376.30 180.94h3.4M681.55 180.94h-3.4M376.30 160.51h3.4M681.55 160.51h-3.4M376.30 140.08h3.4M681.55 140.08h-3.4M376.30 119.65h3.4M681.55 119.65h-3.4M376.30 99.22h3.4M681.55 99.22h-3.4M376.30 78.79h3.4M681.55 78.79h-3.4M376.30 58.36h3.4M681.55 58.36h-3.4M376.30 37.93h3.4M681.55 37.93h-3.4" stroke="#2b2b2b" stroke-width="1.0" fill="none"/>
<text transform="translate(528.82 11.00) scale(1.141 1)" text-anchor="middle" class="tt">5% VaR - Asymmetric slope</text>
<clipPath id="cbl"><rect x="22.20" y="270.45" width="305.25" height="202.40"/></clipPath>
<g clip-path="url(#cbl)">
<polyline points="21.8,440.0 22.6,461.7 22.6,451.2 23.4,465.1 23.4,461.9 24.2,468.4 24.2,466.0 25.0,469.1 25.0,468.2 25.8,470.3 25.8,469.6 26.6,470.6 26.6,470.0 27.4,470.9 27.4,470.4 28.2,471.1 28.2,470.6 29.0,471.1 29.1,471.2 29.8,448.6 29.8,470.4 30.6,438.1 30.6,449.6 30.9,429.8 31.4,431.1 32.2,449.9 32.2,436.8 33.0,450.0 33.8,433.2 33.8,446.9 34.5,453.0 34.6,424.2 34.6,446.0 34.9,416.7 35.4,424.4 35.7,445.7 36.2,440.3 37.0,454.2 37.0,443.6 37.2,455.0 37.8,447.3 37.9,454.2 38.6,446.2 38.7,453.7 39.4,446.6 40.2,453.5 40.2,447.0 41.0,458.5 41.0,449.1 41.8,458.5 41.8,456.3 41.9,462.2 42.6,462.2 43.4,457.8 43.4,461.9 44.2,453.9 44.2,455.5 45.0,445.4 45.0,454.2 45.8,442.6 45.8,448.6 46.6,437.1 46.6,444.2 47.4,435.2 47.4,444.6 48.2,431.2 49.0,429.1 49.0,438.9 49.0,444.8 49.6,421.6 49.8,421.6 50.6,444.5 50.6,426.2 51.4,445.0 51.4,444.5 52.2,454.3 52.2,447.0 53.0,458.5 53.0,453.6 53.8,462.0 53.9,463.2 54.6,450.5 54.6,453.7 54.7,443.6 55.4,444.3 56.2,454.9 56.2,455.0 57.0,448.4 57.0,454.0 57.8,446.9 57.9,446.7 58.6,454.4 58.6,448.0 59.4,454.5 59.4,451.4 59.8,457.6 60.2,457.1 61.0,451.0 61.0,455.3 61.5,445.7 61.8,445.7 62.6,453.4 62.6,447.0 63.2,455.0 63.4,454.4 64.1,448.9 64.2,446.7 65.0,454.7 65.0,449.8 65.8,458.2 65.8,455.5 66.6,459.0 67.0,459.6 67.4,455.3 67.4,458.3 68.2,451.6 68.2,456.5 69.0,450.8 69.0,450.8 69.8,454.8 69.8,452.1 70.6,455.7 70.6,453.8 71.4,457.3 71.4,455.5 72.2,457.9 72.2,455.8 73.0,459.8 73.0,457.8 73.8,460.3 73.8,459.4 74.6,463.0 74.6,461.3 75.4,464.2 75.4,462.4 76.2,465.2 76.2,463.5 77.0,465.8 77.0,464.2 77.8,466.6 77.8,465.4 78.6,467.2 78.6,466.0 79.4,467.4 79.4,466.5 80.2,468.3 80.3,468.4 81.0,467.1 81.0,468.0 81.8,466.0 81.8,467.2 82.6,465.0 82.6,465.6 83.4,464.0 83.4,464.9 84.2,463.3 84.2,464.7 84.8,461.0 85.0,461.2 85.1,463.9 85.8,463.8 86.6,461.7 86.6,463.7 87.4,460.7 87.4,463.4 88.2,456.7 88.2,459.3 88.5,450.8 89.0,453.4 89.8,462.0 89.8,460.0 90.6,463.7 90.6,462.8 91.4,465.3 91.4,463.9 92.2,466.3 92.2,465.3 93.0,466.6 93.0,465.7 93.5,466.8 93.8,466.8 94.6,465.0 94.6,466.5 94.8,464.6 95.4,464.9 96.2,466.0 96.2,465.8 97.0,466.3 97.0,465.9 97.8,466.7 97.8,466.5 98.6,467.7 98.6,467.2 99.4,468.2 99.4,467.9 100.2,469.4 100.4,469.9 101.0,468.1 101.0,469.1 101.8,465.6 101.8,467.6 102.6,464.4 102.6,465.7 103.4,462.8 103.4,463.7 104.2,461.6 104.2,462.8 105.0,461.1 105.0,462.8 105.8,460.8 105.8,462.0 106.6,457.8 106.6,460.8 107.4,454.9 107.4,457.6 108.2,451.1 108.2,451.4 109.0,441.1 109.0,450.0 109.6,430.3 109.8,430.3 110.6,438.9 110.6,434.4 111.4,444.8 111.4,438.9 112.2,452.3 112.2,446.7 113.0,454.3 113.0,452.3 113.8,458.6 113.8,457.7 114.6,460.4 114.6,459.3 115.4,461.9 115.4,460.0 116.1,462.2 116.2,462.2 117.0,456.9 117.0,460.1 117.1,455.9 117.8,456.8 118.6,461.0 118.6,459.6 119.4,463.4 119.4,461.5 120.2,464.0 120.2,462.5 120.5,464.3 121.0,463.7 121.8,462.6 121.8,463.6 122.6,460.8 122.7,460.5 123.4,463.8 123.4,461.5 123.8,464.8 124.2,462.9 124.3,464.8 125.0,464.8 125.8,460.6 125.8,462.8 126.6,457.2 126.6,460.5 127.4,455.0 127.4,457.3 128.2,448.4 128.2,452.8 129.0,440.6 129.0,448.3 129.8,440.9 129.8,444.0 130.6,438.4 130.6,442.5 131.4,434.2 131.8,432.4 132.2,441.4 132.2,435.9 133.0,447.4 133.0,444.2 133.8,454.8 133.8,450.6 134.6,457.9 134.6,454.6 135.4,460.8 135.5,461.7 136.2,451.3 136.2,460.1 136.4,446.2" fill="none" stroke="#141414" stroke-width="1.40" stroke-linejoin="round"/>
<polyline points="140.8,439.0 141.6,448.9 141.6,445.7 142.4,452.4 142.4,449.6 143.2,458.3 143.2,454.0 144.0,461.6 144.0,458.4 144.8,463.7 144.8,460.7 144.9,463.7 145.6,461.3 145.7,463.4 146.4,462.0 147.2,463.8 147.2,462.2 148.0,464.8 148.0,463.0 148.8,465.1 148.8,464.6 149.6,466.0 149.6,465.5 150.4,466.7 150.4,466.2 151.2,467.0 151.4,467.3 152.0,466.1 152.0,466.7 152.8,464.7 152.8,466.2 153.2,462.6 153.6,462.9 154.4,465.5 154.4,464.2 155.2,466.8 155.2,466.8 156.0,464.4 156.0,465.2 156.8,463.4 156.8,464.0 157.2,462.1 157.6,462.2 158.4,464.0 158.4,463.1 159.2,464.7 159.3,464.8 160.0,462.2 160.0,463.8 160.6,460.5 160.8,460.5 161.6,463.6 161.6,461.7 162.4,464.6 162.4,463.5 163.2,465.5 163.2,464.8 164.0,465.8 164.0,465.8 164.8,464.2 164.8,465.1 165.6,462.0 165.6,460.9 166.4,453.4 166.4,450.1 166.5,458.4 167.2,452.8 168.0,456.6 168.0,455.4 168.8,460.0 168.8,457.5 169.6,460.8 169.6,460.0 170.4,462.0 170.4,460.9 171.2,463.0 171.2,462.3 172.0,464.0 172.0,463.0 172.8,464.4 172.8,463.9 173.6,464.9 173.6,464.1 173.9,465.3 174.4,464.5 174.5,465.2 175.2,464.6 176.0,465.7 176.0,465.1 176.8,466.9 176.8,466.1 177.6,467.4 177.6,466.9 178.4,468.1 178.4,467.4 178.5,468.2 179.2,468.0 180.0,467.6 180.0,467.8 180.8,466.8 180.8,467.5 181.6,466.0 181.6,466.2 182.4,464.6 182.4,465.8 182.6,464.1 183.2,464.6 184.0,466.3 184.0,465.7 184.7,466.8 184.8,466.8 185.6,464.8 185.6,465.9 185.9,464.1 186.4,464.3 187.2,465.2 187.2,464.8 188.0,466.7 188.0,466.2 188.8,467.6 188.8,466.9 189.6,467.9 189.8,468.2 190.4,467.5 190.4,467.7 191.2,466.5 191.2,467.4 192.0,463.5 192.0,465.6 192.8,458.8 192.8,461.7 192.9,456.9 193.6,458.3 194.4,462.0 194.4,459.8 195.2,462.6 195.2,460.8 196.0,462.9 196.0,461.8 196.8,464.1 196.8,462.7 197.6,465.0 197.6,463.3 198.4,465.3 198.4,464.1 199.0,465.8 199.2,465.8 200.0,463.0 200.0,462.6 200.1,464.7 200.8,463.5 201.6,465.1 201.6,463.9 202.4,465.6 202.4,464.7 203.2,466.3 203.2,465.6 204.0,467.1 204.0,466.7 204.8,467.5 204.8,467.3 205.6,468.6 205.6,468.3 206.4,469.0 206.4,468.9 207.0,469.4 207.2,469.4 208.0,468.3 208.0,468.8 208.8,467.6 208.8,468.3 209.6,467.5 209.6,468.0 210.4,466.8 210.4,467.3 211.2,466.0 211.2,466.4 212.0,463.5 212.0,464.5 212.8,461.4 212.8,462.6 213.2,459.0 213.6,459.4 214.4,462.2 214.4,460.6 214.8,465.3 215.2,462.5 215.3,465.3 216.0,461.6 216.8,465.6 216.8,463.9 217.6,466.5 217.6,465.1 218.4,467.0 218.4,466.3 219.2,468.3 219.2,467.2 220.0,468.9 220.0,468.2 220.8,469.1 220.8,468.7 221.5,469.4 221.6,469.3 222.4,469.4 223.2,469.1 223.2,469.4 224.0,468.5 224.0,468.5 224.8,465.9 224.8,465.9 224.9,467.4 225.6,466.6 226.4,467.3 226.4,466.7 227.2,467.5 227.2,467.0 228.0,468.0 228.0,467.3 228.8,468.4 229.0,468.6 229.6,466.6 229.6,467.0 230.4,463.1 230.4,465.8 230.7,460.5 231.2,461.7 232.0,463.4 232.0,461.8 232.8,464.7 232.8,463.7 233.6,464.7 233.6,464.4 234.3,465.3 234.4,464.6 234.5,465.3 235.2,465.3 236.0,464.6 236.0,465.3 236.8,460.3 236.8,464.0 237.6,458.0 237.6,458.0 238.4,463.2 238.4,461.9 239.2,464.6 239.2,463.6 239.9,465.8 240.0,464.8 240.1,465.8 240.8,465.8 241.6,464.0 241.6,465.6 242.4,461.8 242.4,463.6 243.2,459.7 243.2,461.0 244.0,458.0 244.0,459.3 244.8,456.6 244.8,456.6 245.6,460.1 245.6,458.0 246.4,460.6 246.8,461.2 247.2,457.3 247.2,459.7 247.6,452.9 248.0,453.9 248.8,457.6 248.8,454.7 249.6,458.5 249.6,456.2 250.4,459.5 250.4,457.9 250.9,460.7 251.2,458.5 251.3,460.7 252.0,460.7 252.8,457.9 252.8,458.9 252.9,455.9 253.6,456.7 254.4,459.4 254.4,457.7 255.2,461.2 255.2,459.8 256.0,461.5 256.3,462.0 256.8,460.7 256.8,461.6 257.6,459.9 257.6,460.4 258.4,457.7 258.4,459.8 258.7,455.9 259.7,459.4 260.0,456.9 260.0,459.6 260.8,453.4 260.8,455.7 261.6,453.3 261.6,454.6 262.4,452.3 262.5,451.3 263.2,453.6 263.2,452.4 264.0,454.9 264.5,455.6 264.8,453.0 264.8,455.6 265.2,450.8 265.6,450.8 265.7,453.0 266.4,450.8 267.2,453.7 267.2,451.9 268.0,454.7 268.0,453.4 268.8,457.2 268.8,455.7 269.6,458.4 269.6,457.1 270.4,458.7 270.4,458.1 271.2,459.2 271.2,458.4 272.0,459.9 272.0,459.0 272.8,460.2 272.8,458.7 273.6,461.1 273.6,459.6 274.4,462.0 274.4,460.7 275.2,463.1 275.2,461.6 276.0,463.5 276.0,462.4 276.5,464.3 276.8,464.3 277.6,462.8 277.6,463.7 277.8,462.6 278.4,462.8 278.5,463.5 279.2,463.7 280.0,463.1 280.0,463.7 280.8,462.6 280.8,463.7 281.6,462.4 281.9,462.1 282.4,463.6 282.4,462.5 283.2,464.1 283.2,462.9 284.0,464.8 284.0,463.5 284.8,465.3 284.8,464.3 285.6,465.6 285.6,465.1 286.4,466.5 286.4,465.8 287.2,467.1 287.2,466.5 288.0,467.5 288.0,467.4 288.8,468.3 288.8,467.8 289.5,468.9 289.6,468.1 289.7,468.9 290.4,468.9 291.2,463.6 291.2,466.9 292.0,461.0 292.0,462.5 292.8,459.3 292.8,459.0 292.9,461.1 293.6,459.0 294.4,460.9 294.4,459.0 295.2,461.7 295.2,459.4 296.0,462.5 296.0,461.8 296.8,464.8 296.8,463.2 297.6,466.4 297.6,464.8 298.4,466.6 298.6,466.8 299.2,465.7 299.2,466.7 299.8,465.1 300.0,465.1 300.8,466.9 300.8,466.5 301.6,467.8 302.0,468.2 302.4,467.1 302.4,467.3 303.2,465.4 303.2,466.8 304.0,465.1 304.0,465.7 304.1,464.6 305.4,465.6 305.6,464.8 305.6,465.8 306.4,461.8 306.4,463.4 307.2,459.2 307.2,462.0 307.3,459.0 308.0,459.8 308.8,461.7 308.8,460.7 309.5,462.2 309.6,462.2 310.4,457.0 310.4,460.3 311.2,456.1 311.2,457.6 312.0,454.0 312.3,452.9 312.8,456.5 312.8,454.9 313.6,458.7 313.6,456.9 314.4,461.3 314.4,459.5 315.2,461.9 315.2,460.4 316.0,462.4 316.0,461.4 316.8,464.3 316.8,463.3 317.6,465.4 317.6,464.6 318.0,466.3 318.4,466.1 319.2,464.9 319.2,465.6 320.0,464.5 320.0,464.9 320.8,463.3 320.8,464.9 321.3,461.0 321.6,461.0 322.4,464.9 322.4,463.9 323.2,465.1 323.4,465.3 324.0,464.1 324.0,465.3 324.8,463.7 324.8,465.3 324.9,463.6 325.6,463.8 325.7,465.3 326.4,464.2 326.5,465.3" fill="none" stroke="#141414" stroke-width="1.40" stroke-linejoin="round"/>
<polyline points="22.3,439.5 22.7,449.0 23.2,458.0 24.0,465.0 25.5,469.0 27.5,470.6 29.3,471.0" fill="none" stroke="#141414" stroke-width="1.35" stroke-linejoin="round"/>
<polyline points="136.3,456.0 136.8,452.0 137.2,446.0 137.4,400.0 137.6,344.0 137.8,374.0 138.0,384.0 138.5,400.0 139.0,413.0 139.5,423.5 140.0,432.0 140.8,442.0" fill="none" stroke="#141414" stroke-width="1.35" stroke-linejoin="round"/>
</g>
<rect x="22.20" y="270.45" width="305.25" height="202.40" fill="none" stroke="#2b2b2b" stroke-width="1.05"/>
<text transform="translate(34.90 488.00) scale(1.040 1)" text-anchor="middle" class="tk">2011</text>
<text transform="translate(67.97 488.00) scale(1.040 1)" text-anchor="middle" class="tk">2012</text>
<text transform="translate(100.34 488.00) scale(1.040 1)" text-anchor="middle" class="tk">2013</text>
<text transform="translate(132.71 488.00) scale(1.040 1)" text-anchor="middle" class="tk">2014</text>
<text transform="translate(165.08 488.00) scale(1.040 1)" text-anchor="middle" class="tk">2015</text>
<text transform="translate(197.45 488.00) scale(1.040 1)" text-anchor="middle" class="tk">2016</text>
<text transform="translate(229.82 488.00) scale(1.040 1)" text-anchor="middle" class="tk">2017</text>
<text transform="translate(262.19 488.00) scale(1.040 1)" text-anchor="middle" class="tk">2018</text>
<text transform="translate(294.56 488.00) scale(1.040 1)" text-anchor="middle" class="tk">2019</text>
<text transform="translate(17.50 457.85) scale(1.040 1)" text-anchor="end" class="tk">20</text>
<text transform="translate(17.50 437.50) scale(1.040 1)" text-anchor="end" class="tk">40</text>
<text transform="translate(17.50 417.15) scale(1.040 1)" text-anchor="end" class="tk">60</text>
<text transform="translate(17.50 396.80) scale(1.040 1)" text-anchor="end" class="tk">80</text>
<text transform="translate(17.50 376.45) scale(1.040 1)" text-anchor="end" class="tk">100</text>
<text transform="translate(17.50 356.10) scale(1.040 1)" text-anchor="end" class="tk">120</text>
<text transform="translate(17.50 335.75) scale(1.040 1)" text-anchor="end" class="tk">140</text>
<text transform="translate(17.50 315.40) scale(1.040 1)" text-anchor="end" class="tk">160</text>
<text transform="translate(17.50 295.05) scale(1.040 1)" text-anchor="end" class="tk">180</text>
<text transform="translate(17.50 274.70) scale(1.040 1)" text-anchor="end" class="tk">200</text>
<path d="M35.70 472.85v-3.4M35.70 270.45v3.4M68.07 472.85v-3.4M68.07 270.45v3.4M100.44 472.85v-3.4M100.44 270.45v3.4M132.81 472.85v-3.4M132.81 270.45v3.4M165.18 472.85v-3.4M165.18 270.45v3.4M197.55 472.85v-3.4M197.55 270.45v3.4M229.92 472.85v-3.4M229.92 270.45v3.4M262.29 472.85v-3.4M262.29 270.45v3.4M294.66 472.85v-3.4M294.66 270.45v3.4M22.20 453.65h3.4M327.45 453.65h-3.4M22.20 433.30h3.4M327.45 433.30h-3.4M22.20 412.95h3.4M327.45 412.95h-3.4M22.20 392.60h3.4M327.45 392.60h-3.4M22.20 372.25h3.4M327.45 372.25h-3.4M22.20 351.90h3.4M327.45 351.90h-3.4M22.20 331.55h3.4M327.45 331.55h-3.4M22.20 311.20h3.4M327.45 311.20h-3.4M22.20 290.85h3.4M327.45 290.85h-3.4" stroke="#2b2b2b" stroke-width="1.0" fill="none"/>
<text transform="translate(174.42 264.00) scale(1.129 1)" text-anchor="middle" class="tt">1% VaR - Symmetric absolute value</text>
<clipPath id="cbr"><rect x="376.30" y="270.45" width="305.25" height="202.40"/></clipPath>
<g clip-path="url(#cbr)">
<polyline points="376.3,441.1 376.8,466.8 376.9,464.3 377.4,467.1 377.5,466.5 377.5,467.1 378.1,467.0 378.7,467.0 379.3,467.0 379.9,467.0 380.5,467.0 381.1,467.0 381.7,467.0 382.3,467.0 382.9,467.0 383.5,467.1 384.0,429.3 384.2,406.9 384.6,456.1 384.7,406.9 385.2,464.0 385.3,406.9 385.8,465.1 385.9,428.6 385.9,454.1 386.5,424.7 387.0,464.4 387.1,432.8 387.6,461.9 387.7,466.3 388.1,404.4 388.3,404.4 388.3,462.5 388.9,404.4 388.9,461.6 389.5,404.4 390.0,466.3 390.1,433.7 390.1,466.3 390.7,438.2 390.7,461.2 391.3,441.9 391.8,466.3 391.9,443.5 391.9,466.3 392.5,449.7 392.5,465.2 393.1,445.1 393.1,464.1 393.7,448.3 393.7,463.3 394.3,459.2 394.8,446.8 394.9,446.2 395.4,461.3 395.5,457.7 396.0,466.5 396.4,466.8 396.6,459.5 396.7,466.8 397.2,457.5 397.3,465.4 397.4,451.3 397.9,451.6 397.9,464.0 398.5,461.8 399.0,450.3 399.1,456.2 399.6,448.9 399.7,452.9 400.2,441.7 400.3,456.9 400.8,434.4 400.9,452.7 401.3,433.9 401.5,433.9 402.0,450.7 402.1,437.5 402.6,452.9 403.2,434.1 403.3,457.7 403.8,410.0 403.8,458.9 403.9,410.0 404.4,446.2 404.5,410.0 405.0,463.4 405.1,422.7 405.6,463.9 405.7,449.6 406.2,463.8 406.3,452.0 406.7,464.8 406.9,455.9 406.9,464.8 407.5,463.9 408.0,443.4 408.1,462.0 408.3,420.8 408.7,420.8 409.2,460.8 409.3,420.8 409.8,460.2 409.9,436.3 409.9,464.3 410.5,445.0 410.5,462.4 411.1,462.2 411.6,446.5 411.7,458.2 412.2,444.0 412.3,434.9 412.8,458.8 412.9,440.1 413.4,462.5 413.5,447.1 413.8,464.3 414.1,464.3 414.6,452.4 414.7,459.7 415.2,441.6 415.3,456.1 415.4,435.4 415.9,435.9 416.4,453.2 416.5,436.1 416.9,464.3 417.1,464.3 417.6,447.4 417.7,462.5 418.2,446.1 418.3,458.1 418.5,438.5 418.9,445.6 419.4,460.5 419.5,451.6 420.0,464.6 420.1,455.3 420.2,464.8 420.7,462.5 421.2,458.4 421.3,462.9 421.8,453.4 421.9,459.4 422.4,449.7 422.5,458.2 423.0,448.8 423.1,446.2 423.1,456.1 423.7,446.6 424.2,455.3 424.3,450.3 424.8,459.9 424.9,454.8 424.9,460.2 425.5,460.2 426.0,452.2 426.3,448.8 426.6,459.9 426.7,453.9 427.2,460.3 427.3,457.1 427.8,463.1 428.0,463.7 428.4,459.8 428.5,461.5 429.0,455.4 429.1,455.4 429.6,464.1 429.7,460.6 430.2,464.8 430.3,462.1 430.7,465.3 430.9,462.9 430.9,465.3 431.5,464.8 432.0,462.8 432.1,462.1 432.6,465.4 432.7,462.7 433.2,466.1 433.3,463.4 433.8,465.8 433.9,463.7 434.4,466.5 434.5,464.6 434.5,466.8 435.1,466.4 435.6,464.7 435.7,465.7 436.2,463.7 436.3,465.0 436.8,461.4 436.9,464.0 437.4,461.5 437.5,463.5 437.9,460.5 438.1,461.3 438.1,464.3 438.7,464.3 439.2,460.3 439.3,464.0 439.8,459.5 439.9,463.5 440.1,456.9 440.5,459.6 441.0,464.2 441.1,464.3 441.6,455.2 441.7,462.0 442.2,445.4 442.3,456.1 442.4,431.3 442.9,431.3 442.9,461.6 443.5,431.3 444.0,463.3 444.1,458.2 444.6,463.4 444.7,460.9 445.2,464.7 445.3,462.0 445.8,465.2 445.9,463.0 446.0,466.3 446.5,466.0 447.0,462.2 447.1,464.4 447.6,460.9 447.7,465.2 448.2,460.2 448.3,464.1 448.6,458.0 448.9,458.0 449.4,464.2 449.5,462.1 450.0,465.5 450.1,463.1 450.6,465.2 450.7,463.9 450.7,465.8 451.3,464.7 451.3,465.6 451.9,464.6 452.4,465.7 452.5,464.7 453.0,465.7 453.1,465.3 453.6,466.0 453.7,465.9 454.2,466.4 454.3,466.3 454.8,466.7 455.1,466.8 455.4,465.7 455.5,466.6 456.0,464.8 456.1,465.9 456.6,463.3 456.7,465.1 457.2,461.5 457.3,464.2 457.8,460.8 457.9,463.4 458.3,458.0 458.5,458.0 459.0,463.4 459.1,459.3 459.4,463.7 459.7,463.7 460.2,457.7 460.3,462.2 460.8,455.6 460.9,461.8 461.4,453.6 461.5,460.6 462.0,452.5 462.1,456.8 462.6,450.7 462.7,451.5 463.2,430.4 463.3,455.0 463.5,417.7 463.9,417.7 463.9,448.4 464.5,417.7 465.0,443.9 465.1,437.6 465.6,448.9 465.7,441.9 466.2,456.5 466.3,451.1 466.8,460.1 466.9,456.8 467.4,464.3 467.5,464.3 468.0,458.4 468.1,463.0 468.6,455.9 468.7,455.9 468.7,462.3 469.3,463.1 469.8,457.3 469.9,463.2 470.4,452.1 470.5,457.5 471.0,450.5 471.1,459.3 471.5,445.7 471.7,445.7 472.2,461.3 472.3,454.7 472.8,463.1 472.9,459.0 473.4,464.0 473.5,461.4 473.5,464.8 474.1,462.1 474.1,464.8 474.7,464.8 475.2,462.6 475.3,463.6 475.8,461.0 475.9,463.1 476.4,460.7 476.5,463.8 476.8,456.9 477.1,456.9 477.6,464.6 477.8,465.3 478.2,459.4 478.3,463.1 478.8,455.4 478.9,455.4 478.9,463.5 479.5,456.0 479.5,461.0 480.1,460.8 480.6,454.4 480.7,460.2 481.2,453.0 481.3,459.3 481.8,453.0 481.9,457.7 482.4,445.7 482.5,456.7 483.0,435.0 483.1,455.9 483.6,431.4 483.7,447.7 484.2,429.6 484.3,448.6 484.8,428.5 484.9,455.0 485.4,429.5 486.0,424.9 486.1,446.1 486.1,424.9 486.6,450.4 486.7,429.9 487.2,454.5 487.3,448.1 487.8,459.7 487.9,454.7 488.4,463.5 488.5,457.4 489.0,463.6 489.1,464.3 489.6,452.1 489.7,464.3 490.2,449.1 490.3,459.0 490.8,428.9 490.9,455.0 491.4,404.0 491.5,439.3 491.9,364.2 492.1,364.2 492.6,423.9 492.7,364.2 493.2,428.4 493.3,411.4 493.8,463.1 493.9,450.5 494.2,463.7 494.5,449.9 494.5,463.7 495.1,450.7 495.1,460.9 495.7,449.8 495.7,459.7 496.3,453.5 496.3,459.9 496.9,455.1 497.4,459.8 497.5,456.4 498.0,461.7 498.1,460.8 498.3,463.7 498.7,463.4 499.2,460.8 499.5,460.5 499.8,463.4 499.9,461.0 500.4,463.3 500.6,464.3 501.0,460.7 501.1,463.9 501.6,459.0 501.7,459.0 502.2,463.4 502.3,461.5 502.8,463.9 502.9,463.1 503.4,465.2 503.5,463.9 503.9,465.8 504.1,465.8 504.6,464.0 504.7,465.2 505.2,463.3 505.3,465.1 505.8,462.4 505.9,465.1 506.4,461.9 506.5,463.9 507.0,456.3 507.1,463.6 507.6,455.7 507.7,454.9 508.2,464.3 508.3,459.1 508.8,465.6 508.9,462.6 509.4,465.1 509.5,466.3 510.0,460.9 510.1,463.5 510.2,455.9 510.7,456.6 510.7,464.1 511.3,457.8 511.3,462.8 511.9,457.3 512.4,464.1 512.5,460.7 513.0,464.4 513.1,461.4 513.6,464.7 513.8,464.8 514.2,460.3 514.3,462.8 514.8,457.0 514.9,463.6 515.4,454.4 515.5,454.4 516.0,463.9 516.1,458.4 516.6,462.6 516.7,461.2 517.2,463.7 517.3,461.4 517.7,464.8 517.9,464.8 518.4,461.7 518.5,464.5 519.0,459.6 519.1,461.5 519.6,453.1 519.7,461.8 520.2,444.7 520.3,458.9 520.5,429.6 520.9,433.2 521.4,453.2 521.5,430.7 522.0,457.8 522.1,452.9 522.6,461.4 522.7,453.6 523.2,462.8 523.3,454.0 523.8,461.2 523.9,456.6 524.4,464.3 524.5,459.0 524.5,464.3 525.1,460.2 525.1,464.3 525.7,464.3 526.2,455.9 526.3,455.9 526.8,461.7 526.9,459.1 527.4,463.8 527.5,460.5 528.0,463.8 528.1,461.8 528.6,464.3 528.7,461.1 529.2,463.8 529.3,461.6 529.8,463.8 529.9,462.3 530.4,464.8 530.5,463.4 531.0,464.9 531.1,464.1 531.5,465.8 531.7,465.0 531.7,465.8 532.3,465.1 532.3,465.8 532.9,465.8 533.4,464.8 533.5,465.7 534.0,464.2 534.1,465.0 534.6,463.6 534.7,465.2 535.2,462.8 535.3,465.1 535.8,462.3 535.9,463.4 536.4,459.6 536.5,463.4 536.7,458.0 537.1,460.5 537.6,464.2 537.7,461.7 537.7,464.3 538.3,464.3 538.8,461.1 538.9,464.3 539.4,459.0 539.5,463.6 539.7,456.9 540.1,457.6 540.6,463.2 540.7,457.6 541.2,463.2 541.3,461.6 541.8,464.2 541.9,462.6 542.4,465.5 542.5,463.7 542.8,465.8 543.1,464.7 543.1,465.8 543.7,464.8 543.7,465.8 544.3,465.8 544.8,463.9 544.9,465.6 545.4,463.2 545.5,463.5 546.0,459.1 546.1,464.5 546.6,453.8 546.7,460.4 547.0,448.8 547.3,448.8 547.3,458.7 547.9,450.1 548.4,463.2 548.5,457.5 549.0,462.7 549.1,460.2 549.6,464.2 549.7,460.9 549.7,464.0 550.8,460.6 550.9,464.1 551.4,458.9 551.5,464.7 551.5,458.5 552.0,464.2 552.1,459.6 552.4,465.8 552.7,465.8 553.2,455.9 553.3,454.4 553.3,463.7 553.9,457.7 554.4,462.9 554.5,458.2 555.0,463.5 555.1,461.5 555.6,464.1 555.7,462.6 556.2,464.7 556.3,462.6 556.8,464.5 556.9,462.9 557.4,465.2 557.5,463.6 558.0,465.4 558.1,464.3 558.6,465.6 558.7,464.7 559.2,465.8 559.3,465.0 559.8,465.9 559.9,465.5 560.4,466.1 560.7,466.5 561.0,465.9 561.1,466.4 561.6,464.8 561.7,466.3 562.1,463.6 562.3,463.6 562.3,466.3 562.9,464.4 562.9,466.1 563.5,465.7 564.0,464.7 564.1,465.6 564.6,464.0 564.7,464.9 565.2,462.0 565.3,463.9 565.8,459.7 565.9,464.4 566.4,459.6 566.5,461.4 567.0,455.0 567.1,449.1 567.1,460.8 567.7,449.8 568.2,462.1 568.3,453.9 568.8,462.0 568.9,459.3 569.4,464.9 569.5,462.0 569.9,465.8 570.1,465.8 570.5,450.8 570.7,450.8 570.7,465.8 571.3,451.1 571.8,463.9 571.9,460.5 572.4,464.1 572.5,463.9 573.0,465.6 573.1,464.7 573.2,465.8 573.7,465.8 574.2,464.7 574.5,464.1 574.8,465.4 574.9,464.6 575.4,466.1 575.5,465.2 576.0,466.3 576.1,465.7 576.1,466.3 576.7,465.7 576.7,466.2 577.3,466.1 577.8,465.1 577.9,465.7 578.4,462.7 578.5,465.0 579.0,461.0 579.1,464.6 579.4,460.0 579.7,460.0 580.2,465.1 580.3,463.3 580.8,465.5 580.9,464.3 581.4,465.5 581.5,464.8 582.0,465.9 582.1,465.2 582.6,466.1 583.0,466.3 583.2,465.1 583.3,466.3 583.8,461.6 583.9,462.4 584.4,447.7 584.5,447.7 584.5,463.1 585.1,447.7 585.6,462.5 585.7,454.8 586.2,463.4 586.8,460.6 586.9,464.5 587.3,460.0 587.4,464.8 587.5,460.0 588.0,464.4 588.1,461.1 588.5,465.3 588.7,465.3 589.2,460.9 589.3,464.1 589.8,460.5 589.9,461.9 590.4,456.5 590.5,462.9 590.7,450.3 591.1,450.7 591.6,461.9 591.7,451.0 592.2,463.2 592.3,457.3 592.8,464.1 592.9,461.5 593.4,465.0 593.5,463.3 594.0,465.8 594.1,465.8 594.6,463.7 594.7,464.7 595.2,462.0 595.3,465.0 595.8,459.7 595.9,463.5 596.4,458.9 596.5,459.9 597.0,453.4 597.1,459.6 597.6,453.1 598.2,453.5 598.3,460.2 598.8,452.7 598.9,458.5 599.3,452.3 599.4,461.3 599.5,452.3 600.0,461.2 600.1,463.2 600.6,455.6 600.7,462.9 601.2,452.5 601.3,462.4 601.8,448.4 601.9,459.5 602.0,447.7 602.5,449.9 603.0,458.6 603.1,453.9 603.6,460.6 603.7,455.3 604.2,461.1 604.3,456.7 604.8,463.3 604.9,458.4 604.9,464.3 605.5,458.2 605.5,462.4 606.1,461.9 606.6,452.2 606.7,462.9 606.8,446.2 607.3,446.2 607.3,461.5 607.9,446.2 608.4,461.2 608.5,453.8 609.0,462.1 609.1,458.7 609.6,462.4 609.7,460.0 609.9,463.7 610.3,460.1 610.3,462.7 610.9,462.1 611.4,458.2 611.5,460.5 612.0,452.8 612.1,459.5 612.6,454.7 612.7,459.6 612.7,452.3 613.3,454.9 613.3,459.3 613.9,459.2 614.4,452.9 614.5,456.6 615.0,449.6 615.1,458.4 615.5,447.2 615.7,447.2 615.7,455.7 616.3,448.7 616.3,456.2 616.9,448.1 617.4,457.9 618.0,449.8 618.1,456.7 618.6,460.2 618.6,448.4 618.7,460.2 619.2,445.3 619.3,455.1 619.4,441.6 619.9,441.6 619.9,455.5 620.5,441.6 621.0,457.6 621.1,451.1 621.6,460.0 621.7,452.6 622.1,462.2 622.3,462.2 622.8,453.3 622.9,460.7 623.4,452.9 623.5,452.9 624.0,459.9 624.1,454.9 624.6,459.3 624.7,456.1 625.2,460.6 625.3,455.0 625.8,461.6 625.9,456.6 626.4,461.1 626.5,457.6 627.0,461.5 627.1,457.4 627.6,462.7 627.7,457.7 628.2,463.0 628.3,457.9 628.8,463.2 628.9,457.4 629.4,461.9 629.5,459.1 630.0,463.9 630.1,458.1 630.3,464.3 630.7,464.2 631.2,459.3 631.3,462.8 631.8,459.2 631.9,458.0 632.4,463.8 632.5,458.5 633.0,464.1 633.1,459.6 633.4,464.3 633.7,460.5 633.7,464.3 634.3,460.9 634.3,464.1 634.9,463.8 635.4,459.8 635.5,463.6 636.0,455.9 636.1,455.9 636.6,463.6 636.7,456.2 637.2,463.5 637.3,458.0 637.8,463.7 638.4,459.4 638.5,463.7 638.7,458.5 639.0,464.6 639.1,459.8 639.6,465.0 639.7,461.2 640.2,465.2 640.3,462.9 640.8,465.4 640.9,463.3 641.4,465.1 641.5,463.4 642.0,466.0 642.1,463.8 642.6,466.0 642.7,464.4 643.2,466.4 643.3,465.1 643.8,466.4 644.3,466.8 644.4,464.8 644.5,466.8 645.0,457.5 645.1,465.2 645.4,450.8 645.7,450.8 645.7,460.2 646.3,450.8 646.3,462.6 646.9,452.8 647.4,461.7 647.5,457.0 648.0,462.0 648.1,457.6 648.6,462.8 648.7,457.3 649.2,463.5 649.3,458.0 649.8,464.1 649.9,458.5 650.4,464.6 650.5,460.9 651.0,464.3 651.1,462.6 651.6,465.0 651.7,464.1 652.2,466.0 652.3,464.3 652.8,466.1 652.9,466.1 653.4,463.0 653.5,465.3 653.8,458.0 654.1,458.0 654.1,464.9 654.7,458.0 655.2,464.1 655.3,462.7 655.4,466.1 655.9,464.3 655.9,466.1 656.5,465.9 657.0,463.5 657.1,465.5 657.5,459.0 657.7,459.0 657.7,463.9 658.3,459.4 658.3,463.4 658.9,460.7 658.9,464.0 659.5,463.8 660.0,461.6 660.1,463.2 660.6,460.2 660.7,462.7 661.2,455.4 661.3,455.4 661.3,462.3 661.9,456.6 661.9,461.9 662.5,457.7 662.5,460.1 663.1,460.2 663.6,454.9 663.7,460.9 664.2,450.0 664.3,458.5 664.8,449.2 664.9,459.2 665.4,449.1 665.5,460.0 666.0,447.5 666.1,458.8 666.6,447.6 666.7,458.8 667.1,447.0 667.3,447.0 667.8,459.2 667.9,459.0 668.4,462.7 668.7,463.7 669.0,458.7 669.1,463.7 669.4,455.4 669.7,455.4 670.2,462.8 670.3,460.3 670.8,463.3 670.9,461.4 671.2,465.3 671.5,465.3 672.0,462.3 672.1,465.3 672.6,458.5 672.7,463.9 672.9,453.9 673.3,454.0 673.8,463.6 673.9,454.5 674.3,464.8 674.5,460.8 674.5,464.8 675.1,464.1 675.6,457.7 675.7,455.4 676.2,463.6 676.3,457.0 676.4,464.3 676.9,458.6 676.9,464.3 677.5,464.3 678.0,459.5 678.1,464.3 678.2,458.0 678.7,460.3 678.7,464.3 679.3,464.3 679.8,460.1 680.4,458.3 680.5,464.3 680.7,457.5 680.7,464.8 681.1,457.7 681.1,464.8" fill="none" stroke="#141414" stroke-width="1.40" stroke-linejoin="round"/>
<polyline points="376.5,440.0 376.7,455.0 377.0,466.2 383.6,466.8" fill="none" stroke="#141414" stroke-width="1.35" stroke-linejoin="round"/>
<polyline points="491.8,440.0 491.9,260.0 492.0,440.0" fill="none" stroke="#141414" stroke-width="1.35" stroke-linejoin="round"/>
<polyline points="493.0,440.0 493.2,368.5 493.3,440.0" fill="none" stroke="#141414" stroke-width="1.35" stroke-linejoin="round"/>
</g>
<rect x="376.30" y="270.45" width="305.25" height="202.40" fill="none" stroke="#2b2b2b" stroke-width="1.05"/>
<text transform="translate(389.60 488.00) scale(1.040 1)" text-anchor="middle" class="tk">2011</text>
<text transform="translate(422.67 488.00) scale(1.040 1)" text-anchor="middle" class="tk">2012</text>
<text transform="translate(455.04 488.00) scale(1.040 1)" text-anchor="middle" class="tk">2013</text>
<text transform="translate(487.41 488.00) scale(1.040 1)" text-anchor="middle" class="tk">2014</text>
<text transform="translate(519.78 488.00) scale(1.040 1)" text-anchor="middle" class="tk">2015</text>
<text transform="translate(552.15 488.00) scale(1.040 1)" text-anchor="middle" class="tk">2016</text>
<text transform="translate(584.52 488.00) scale(1.040 1)" text-anchor="middle" class="tk">2017</text>
<text transform="translate(616.89 488.00) scale(1.040 1)" text-anchor="middle" class="tk">2018</text>
<text transform="translate(649.26 488.00) scale(1.040 1)" text-anchor="middle" class="tk">2019</text>
<text transform="translate(371.60 457.85) scale(1.040 1)" text-anchor="end" class="tk">20</text>
<text transform="translate(371.60 437.50) scale(1.040 1)" text-anchor="end" class="tk">40</text>
<text transform="translate(371.60 417.15) scale(1.040 1)" text-anchor="end" class="tk">60</text>
<text transform="translate(371.60 396.80) scale(1.040 1)" text-anchor="end" class="tk">80</text>
<text transform="translate(371.60 376.45) scale(1.040 1)" text-anchor="end" class="tk">100</text>
<text transform="translate(371.60 356.10) scale(1.040 1)" text-anchor="end" class="tk">120</text>
<text transform="translate(371.60 335.75) scale(1.040 1)" text-anchor="end" class="tk">140</text>
<text transform="translate(371.60 315.40) scale(1.040 1)" text-anchor="end" class="tk">160</text>
<text transform="translate(371.60 295.05) scale(1.040 1)" text-anchor="end" class="tk">180</text>
<text transform="translate(371.60 274.70) scale(1.040 1)" text-anchor="end" class="tk">200</text>
<path d="M390.40 472.85v-3.4M390.40 270.45v3.4M422.77 472.85v-3.4M422.77 270.45v3.4M455.14 472.85v-3.4M455.14 270.45v3.4M487.51 472.85v-3.4M487.51 270.45v3.4M519.88 472.85v-3.4M519.88 270.45v3.4M552.25 472.85v-3.4M552.25 270.45v3.4M584.62 472.85v-3.4M584.62 270.45v3.4M616.99 472.85v-3.4M616.99 270.45v3.4M649.36 472.85v-3.4M649.36 270.45v3.4M376.30 453.65h3.4M681.55 453.65h-3.4M376.30 433.30h3.4M681.55 433.30h-3.4M376.30 412.95h3.4M681.55 412.95h-3.4M376.30 392.60h3.4M681.55 392.60h-3.4M376.30 372.25h3.4M681.55 372.25h-3.4M376.30 351.90h3.4M681.55 351.90h-3.4M376.30 331.55h3.4M681.55 331.55h-3.4M376.30 311.20h3.4M681.55 311.20h-3.4M376.30 290.85h3.4M681.55 290.85h-3.4" stroke="#2b2b2b" stroke-width="1.0" fill="none"/>
<text transform="translate(528.82 264.00) scale(1.141 1)" text-anchor="middle" class="tt">1% VaR - Asymmetric slope</text>
</svg>
</body></html>
